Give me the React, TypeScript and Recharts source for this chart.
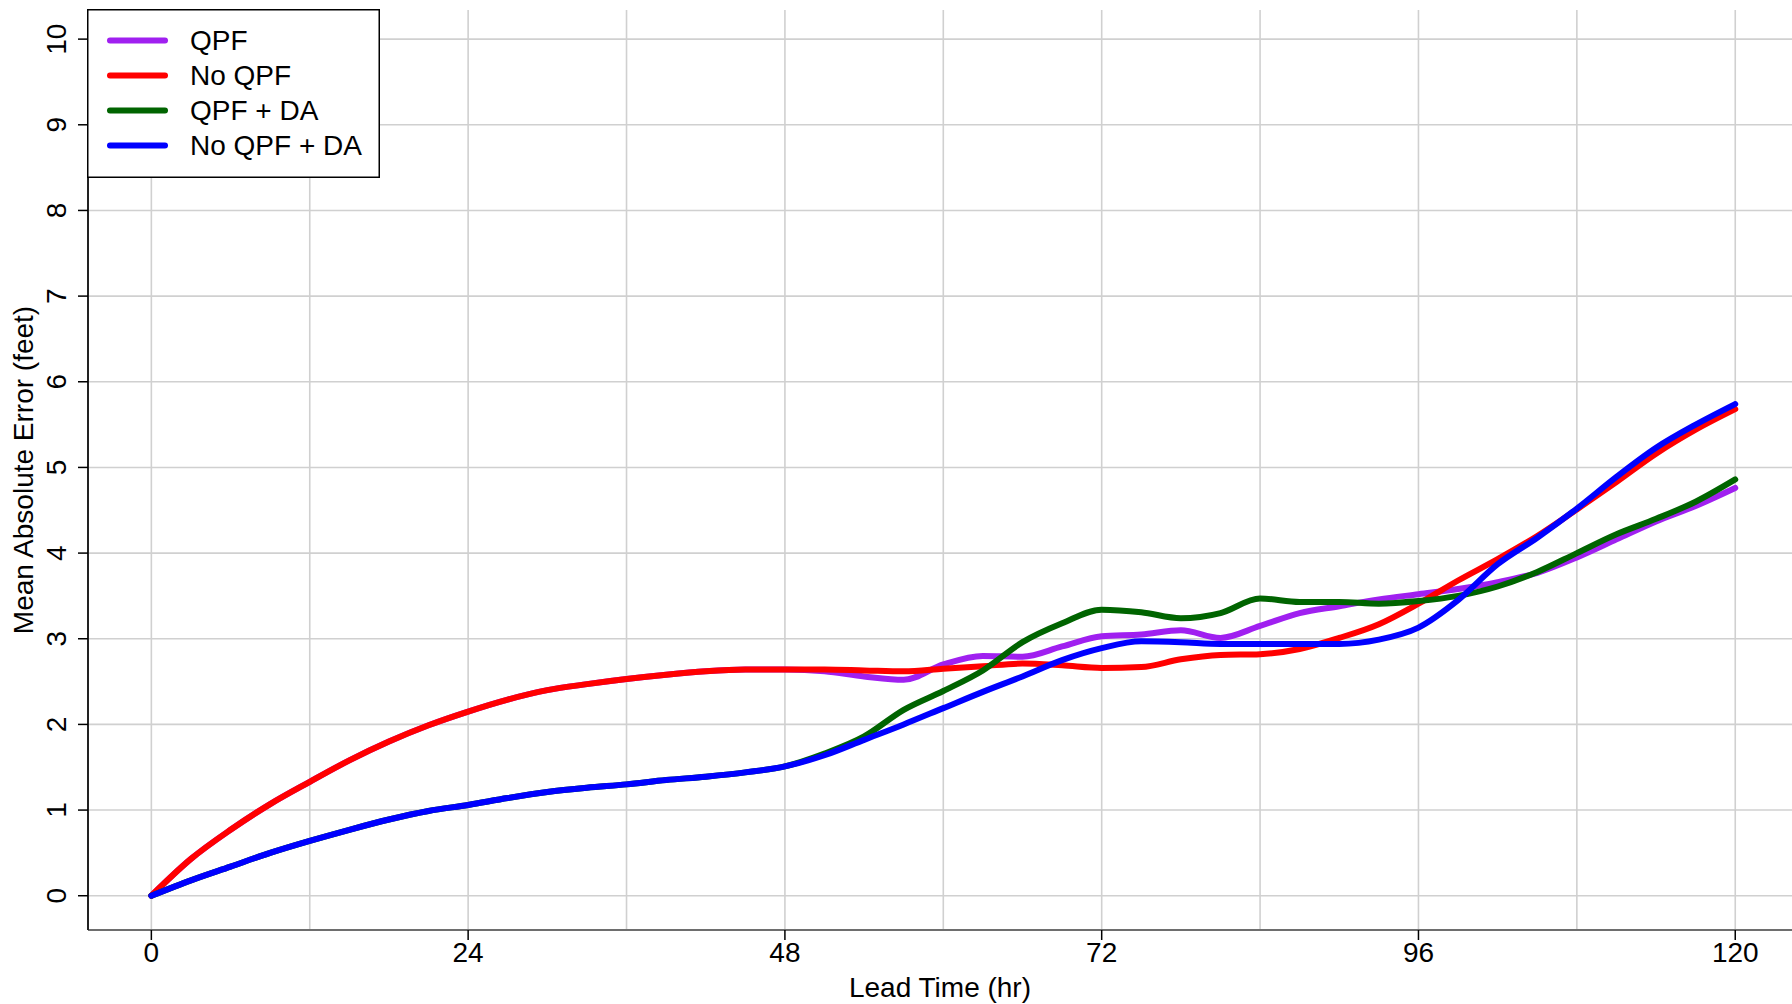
import { LineChart, Line, XAxis, YAxis, CartesianGrid, Legend } from 'recharts'

const hours = [
  0, 3, 6, 9, 12, 15, 18, 21, 24, 27, 30, 33, 36, 39, 42, 45, 48, 51, 54, 57, 60,
  63, 66, 69, 72, 75, 78, 81, 84, 87, 90, 93, 96, 99, 102, 105, 108, 111, 114, 117, 120,
]

const qpf = [
  0, 0.43, 0.77, 1.07, 1.33, 1.58, 1.8, 1.99, 2.15, 2.29, 2.4, 2.47, 2.53, 2.58, 2.62, 2.64, 2.64, 2.62, 2.56, 2.52, 2.7,
  2.8, 2.79, 2.91, 3.03, 3.05, 3.1, 3.01, 3.15, 3.3, 3.38, 3.46, 3.52, 3.58, 3.66, 3.77, 3.95, 4.16, 4.37, 4.55, 4.76,
]

const noQpf = [
  0, 0.43, 0.77, 1.07, 1.33, 1.58, 1.8, 1.99, 2.15, 2.29, 2.4, 2.47, 2.53, 2.58, 2.62, 2.64, 2.64, 2.64, 2.63, 2.62, 2.65,
  2.68, 2.71, 2.69, 2.66, 2.67, 2.76, 2.81, 2.82, 2.88, 3.01, 3.17, 3.41, 3.68, 3.93, 4.2, 4.51, 4.83, 5.16, 5.44, 5.68,
]

const qpfDa = [
  0, 0.18, 0.34, 0.5, 0.64, 0.77, 0.89, 0.99, 1.06, 1.14, 1.21, 1.26, 1.3, 1.35, 1.39, 1.44, 1.51, 1.66, 1.86, 2.17, 2.39,
  2.63, 2.96, 3.18, 3.34, 3.31, 3.24, 3.3, 3.47, 3.43, 3.43, 3.41, 3.44, 3.5, 3.61, 3.78, 4.0, 4.22, 4.4, 4.6, 4.86,
]

const noQpfDa = [
  0, 0.18, 0.34, 0.5, 0.64, 0.77, 0.89, 0.99, 1.06, 1.14, 1.21, 1.26, 1.3, 1.35, 1.39, 1.44, 1.51, 1.64, 1.82, 2.0, 2.19,
  2.38, 2.56, 2.75, 2.89, 2.97, 2.96, 2.94, 2.94, 2.94, 2.94, 2.99, 3.13, 3.45, 3.87, 4.18, 4.52, 4.89, 5.23, 5.5, 5.74,
]

const seriesNames = ['QPF', 'No QPF', 'QPF + DA', 'No QPF + DA']

const xTicks = [0, 24, 48, 72, 96, 120]
const xGrid = [0, 12, 24, 36, 48, 60, 72, 84, 96, 108, 120]
const yTicks = [0, 1, 2, 3, 4, 5, 6, 7, 8, 9, 10]

const data = hours.map((h, i) => ({
  h,
  qpf: qpf[i],
  noQpf: noQpf[i],
  qpfDa: qpfDa[i],
  noQpfDa: noQpfDa[i],
}))

const FONT = 'Arial, "Liberation Sans", sans-serif'

function XTick(props: any) {
  const { x, payload } = props
  return (
    <text x={x} y={952} textAnchor="middle" dominantBaseline="central" fontSize={28} fontFamily={FONT} fill="#000">
      {payload.value}
    </text>
  )
}

function YTick(props: any) {
  const { y, payload } = props
  return (
    <text
      x={57}
      y={y}
      transform={`rotate(-90, 57, ${y})`}
      textAnchor="middle"
      dominantBaseline="central"
      fontSize={28}
      fontFamily={FONT}
      fill="#000"
    >
      {payload.value}
    </text>
  )
}

function YTitle(props: any) {
  const { viewBox } = props
  const cy = viewBox.y + viewBox.height / 2
  return (
    <text
      x={23}
      y={cy}
      transform={`rotate(-90, 23, ${cy})`}
      textAnchor="middle"
      dominantBaseline="central"
      fontSize={28}
      fontFamily={FONT}
      fill="#000"
    >
      Mean Absolute Error (feet)
    </text>
  )
}

function XTitle(props: any) {
  const { viewBox } = props
  return (
    <text
      x={viewBox.x + viewBox.width / 2}
      y={987}
      textAnchor="middle"
      dominantBaseline="central"
      fontSize={28}
      fontFamily={FONT}
      fill="#000"
    >
      Lead Time (hr)
    </text>
  )
}

function LegendBox(props: any) {
  // keep the plotting order, recharts sorts the payload by name
  const items = [...(props.payload || [])].sort(
    (a: any, b: any) => seriesNames.indexOf(a.value) - seriesNames.indexOf(b.value)
  )
  return (
    <svg width={293} height={169} style={{ display: 'block' }}>
      <rect x={0.75} y={0.75} width={291.5} height={167.5} fill="#fff" stroke="#000" strokeWidth={1.5} />
      {items.map((it: any, i: number) => {
        const cy = 31.5 + i * 35
        return (
          <g key={it.value}>
            <line x1={23} x2={78} y1={cy} y2={cy} stroke={it.color} strokeWidth={6} strokeLinecap="round" />
            <text x={103} y={cy} dominantBaseline="central" fontSize={28} fontFamily={FONT} fill="#000">
              {it.value}
            </text>
          </g>
        )
      })}
    </svg>
  )
}

export default function App() {
  return (
    <div style={{ position: 'absolute', left: 0, top: 0, width: 1792, height: 1004, background: '#fff', overflow: 'hidden' }}>
      <LineChart width={1792} height={1004} data={data} margin={{ top: 10, right: 0, bottom: 0, left: 0 }}>
        <CartesianGrid
          stroke="#d0d0d0"
          strokeWidth={1.6}
          verticalValues={xGrid}
          horizontalValues={yTicks}
        />
        <XAxis
          dataKey="h"
          type="number"
          domain={[-4.8, 124.3]}
          ticks={xTicks}
          allowDataOverflow
          height={74}
          tickSize={10}
          tick={<XTick />}
          axisLine={{ stroke: '#6e6e6e', strokeWidth: 2 }}
          tickLine={{ stroke: '#000', strokeWidth: 1.5 }}
          label={<XTitle />}
        />
        <YAxis
          type="number"
          domain={[-0.4, 10.34]}
          ticks={yTicks}
          allowDataOverflow
          width={88}
          tickSize={10}
          tick={<YTick />}
          axisLine={{ stroke: '#222', strokeWidth: 2 }}
          tickLine={{ stroke: '#000', strokeWidth: 1.5 }}
          label={<YTitle />}
        />
        <Legend
          layout="vertical"
          align="center"
          verticalAlign="middle"
          content={<LegendBox />}
          wrapperStyle={{ position: 'absolute', left: 87, top: 9, width: 293, height: 169 }}
        />
        <Line name={seriesNames[0]} dataKey="qpf" type="monotone" stroke="#A020F0" strokeWidth={6} strokeLinecap="round" dot={false} isAnimationActive={false} />
        <Line name={seriesNames[1]} dataKey="noQpf" type="monotone" stroke="#FF0000" strokeWidth={6} strokeLinecap="round" dot={false} isAnimationActive={false} />
        <Line name={seriesNames[2]} dataKey="qpfDa" type="monotone" stroke="#006400" strokeWidth={6} strokeLinecap="round" dot={false} isAnimationActive={false} />
        <Line name={seriesNames[3]} dataKey="noQpfDa" type="monotone" stroke="#0000FF" strokeWidth={6} strokeLinecap="round" dot={false} isAnimationActive={false} />
      </LineChart>
    </div>
  )
}
